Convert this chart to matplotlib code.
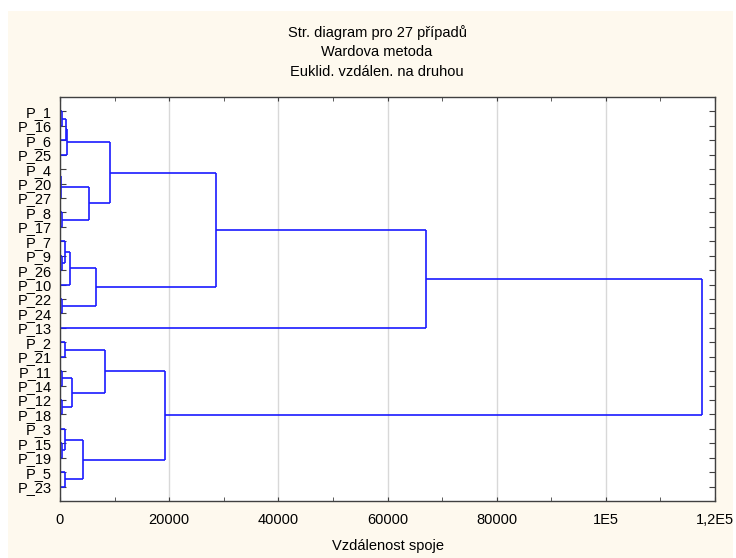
import matplotlib
matplotlib.use("Agg")
import matplotlib.pyplot as plt
from matplotlib.patches import Rectangle
from matplotlib.ticker import MultipleLocator

# leaf order, top to bottom
leaves = ['P_1', 'P_16', 'P_6', 'P_25', 'P_4', 'P_20', 'P_27', 'P_8', 'P_17',
          'P_7', 'P_9', 'P_26', 'P_10', 'P_22', 'P_24', 'P_13', 'P_2', 'P_21',
          'P_11', 'P_14', 'P_12', 'P_18', 'P_3', 'P_15', 'P_19', 'P_5', 'P_23']

# merges: a leaf name or the index of an earlier merge, and the linkage distance
merge_a = ['P_1', 0, 1, 'P_4', 3, 'P_8', 4, 2, 'P_9', 'P_7', 9, 'P_22', 10,
           7, 13, 'P_2', 'P_11', 'P_12', 16, 15, 'P_15', 'P_3', 'P_5', 21, 19, 14]
merge_b = ['P_16', 'P_6', 'P_25', 'P_20', 'P_27', 'P_17', 5, 6, 'P_26', 8,
           'P_10', 'P_24', 11, 12, 'P_13', 'P_21', 'P_14', 'P_18', 17, 18,
           'P_19', 20, 'P_23', 22, 23, 24]
merge_h = [300, 1050, 1280, 80, 200, 450, 5270, 9120, 300, 920, 1780, 350, 6680,
           28570, 67100, 920, 350, 350, 2200, 8200, 450, 920, 920, 4220, 19210,
           117570]

xtick_vals = [0, 20000, 40000, 60000, 80000, 100000, 120000]
xtick_labels = ['0', '20000', '40000', '60000', '80000', '1E5', '1,2E5']

title_lines = ['Str. diagram pro 27 případů', 'Wardova metoda',
               'Euklid. vzdálen. na druhou']
xlabel = 'Vzdálenost spoje'

plt.rcParams['font.family'] = ['Liberation Sans', 'DejaVu Sans']
fs = 10.5

fig = plt.figure(figsize=(7.36, 5.58), dpi=100)
fig.patch.set_facecolor('white')
bg = Rectangle((8 / 736, 0), 725 / 736, 547 / 558, transform=fig.transFigure,
               facecolor='#fef9ee', edgecolor='none', zorder=-10)
fig.add_artist(bg)

ax = fig.add_axes([60 / 736, 57 / 558, 655 / 736, 404 / 558])
ax.set_zorder(1)
ax.set_facecolor('white')

line_col = '#1a1aff'
pos = {name: (i + 1, 0.0) for i, name in enumerate(leaves)}
nodes = []


def get_node(key):
    if isinstance(key, str):
        return pos[key]
    return nodes[key]


for a, b, h in zip(merge_a, merge_b, merge_h):
    ya, ha = get_node(a)
    yb, hb = get_node(b)
    ax.plot([ha, h], [ya, ya], color=line_col, lw=1.2, solid_capstyle='butt')
    ax.plot([hb, h], [yb, yb], color=line_col, lw=1.2, solid_capstyle='butt')
    ax.plot([h, h], [ya, yb], color=line_col, lw=1.2, solid_capstyle='butt')
    nodes.append(((ya + yb) / 2, h))

ax.set_xlim(0, 120000)
ax.set_ylim(28, 0)

ax.set_yticks(range(1, len(leaves) + 1))
ax.set_yticklabels(leaves, fontsize=fs)
ax.set_xticks(xtick_vals)
ax.set_xticklabels(xtick_labels, fontsize=fs)
ax.xaxis.set_minor_locator(MultipleLocator(10000))

ax.tick_params(axis='both', which='both', direction='in', top=True,
               right=True, colors='#404040', labelcolor='black')
ax.tick_params(axis='y', length=4, pad=6)
ax.tick_params(axis='x', which='major', length=3, pad=9)
ax.tick_params(axis='x', which='minor', length=3)

ax.grid(axis='x', which='major', color='#d8d8d8', lw=1)
ax.set_axisbelow(True)
for s in ax.spines.values():
    s.set_color('#404040')
    s.set_linewidth(1)

ax.set_xlabel(xlabel, fontsize=fs, labelpad=8)

for k, txt in enumerate(title_lines):
    fig.text(377 / 736, 1 - (33 + 19.5 * k) / 558, txt, ha='center',
             va='center', fontsize=fs)

fig.savefig('out.png', dpi=100, facecolor=fig.get_facecolor())
